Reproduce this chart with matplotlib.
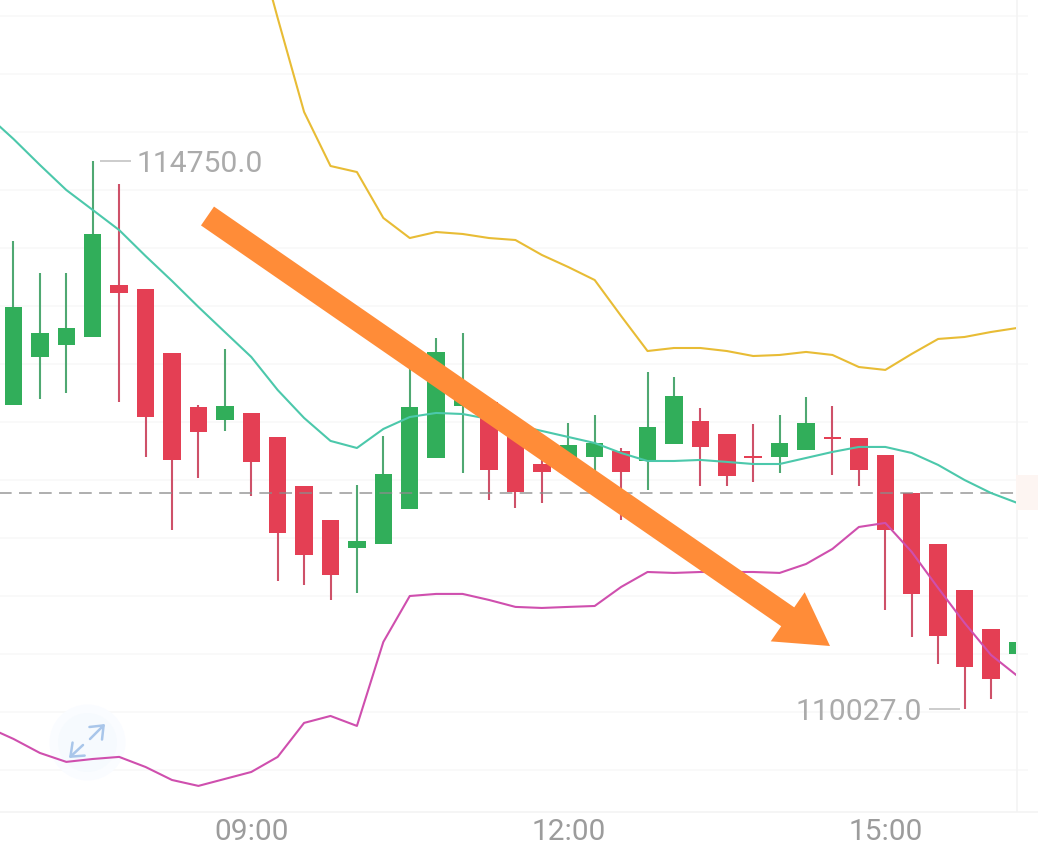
import matplotlib
matplotlib.use("Agg")
import numpy as np
import matplotlib.pyplot as plt
from matplotlib.patches import Rectangle

# 15 minute candles, prices
opens = [112647, 113061, 113164, 113233, 113681, 113647, 113095, 112630, 112518, 112578,
         112371, 111949, 111656, 111414, 111449, 111750, 112190, 112638, 112673, 112371,
         112138, 112173, 112199, 112250, 112164, 112311, 112509, 112397, 112207, 112199,
         112259, 112371, 112362, 112216, 111888, 111449, 111052, 110716, 110501]
closes = [113492, 113268, 113311, 114121, 113612, 112543, 112173, 112414, 112638, 112156,
          111544, 111354, 111181, 111475, 112052, 112630, 113104, 112819, 112087, 111897,
          112069, 112302, 112319, 112069, 112457, 112724, 112285, 112035, 112190, 112319,
          112492, 112354, 112087, 111569, 111018, 110656, 110388, 110285, 110604]
highs = [114061, 113785, 113785, 114750, 114552, 113647, 113095, 112647, 113130, 112578,
         112371, 111949, 111656, 111957, 112380, 112966, 113224, 113268, 112673, 112371,
         112190, 112492, 112561, 112276, 112931, 112888, 112621, 112397, 112483, 112561,
         112716, 112638, 112362, 112216, 111888, 111449, 111052, 110716, 110604]
lows = [112647, 112699, 112750, 113233, 112673, 112199, 111569, 112018, 112423, 111862,
        111130, 111095, 110966, 111026, 111449, 111750, 112190, 112061, 111828, 111759,
        111802, 112173, 112069, 111656, 111914, 112311, 111949, 111949, 111983, 112061,
        112259, 112043, 111949, 110880, 110647, 110414, 110027, 110113, 110501]

# bollinger bands, the first two start left of / above the visible area
mid_band = [115147, 114940, 114716, 114500, 114328, 114155, 113931, 113716, 113492, 113276,
            113061, 112776, 112535, 112337, 112276, 112440, 112543, 112578, 112569, 112526,
            112474, 112423, 112371, 112319, 112233, 112164, 112164, 112173, 112156, 112138,
            112138, 112190, 112242, 112285, 112285, 112233, 112130, 112000, 111888, 111802]
upper_band = [116819, 115983, 115173, 114707, 114655, 114259, 114086, 114138, 114121, 114086,
              114069, 113940, 113836, 113724, 113414, 113112, 113138, 113138, 113112, 113069,
              113078, 113104, 113078, 112974, 112949, 113087, 113216, 113233, 113276, 113311]
lower_band = [109871, 109768, 109647, 109570, 109595, 109613, 109526, 109414, 109363, 109423,
              109483, 109613, 109906, 109966, 109880, 110604, 111000, 111018, 111018, 110966,
              110906, 110897, 110906, 110914, 111078, 111207, 111199, 111207, 111207, 111207,
              111199, 111276, 111406, 111595, 111630, 111380, 111069, 110768, 110492, 110311]

grid_levels = np.arange(109500, 116001, 500)
last_price = 111892
time_ticks = [9, 21, 33]
time_labels = ["09:00", "12:00", "15:00"]

GREEN = "#31AE5A"
RED = "#E43F54"
ORANGE = "#FF8C38"
GRAY = "#ABABAB"

plt.rcParams['font.family'] = ['Roboto', 'DejaVu Sans']

fig = plt.figure(figsize=(10.38, 8.47), dpi=100)
ax = fig.add_axes([0, 35 / 847, 1, 812 / 847])
ax.set_xlim(-0.51, 38.78)
ax.set_ylim(109138, 116138)

clip = Rectangle((0, 0), 1016 / 1038, 1, transform=ax.transAxes)

# grid stops a bit short of the right edge
ax.hlines(grid_levels, 0, 1028 / 1038, color="#F8F8F8", lw=1.2, zorder=0,
          transform=ax.get_yaxis_transform())
ax.axvline(37.97, color="#F4F4F4", lw=1.2, zorder=0)

# faded price tag behind the right edge
ax.add_patch(Rectangle((1016 / 1038, 1 - 510 / 812), 22 / 1038, 35 / 812, transform=ax.transAxes,
                       color="#FDF5F2", lw=0, zorder=0))

# candles
idx = np.arange(len(opens))
op = np.array(opens)
cl = np.array(closes)
colors = [GREEN if c >= o else RED for o, c in zip(op, cl)]
wick_colors = ["#4FA872" if c >= o else "#CE5169" for o, c in zip(op, cl)]

wicks = ax.vlines(idx, lows, highs, colors=wick_colors, lw=1.5, zorder=2)
wicks.set_clip_path(clip)
bodies = ax.bar(idx, np.abs(cl - op), bottom=np.minimum(op, cl), width=0.66,
                color=colors, lw=0, zorder=3)
for b in bodies:
    b.set_clip_path(clip)

# last price line
price_line, = ax.plot([-1, 39], [last_price, last_price], color="#8C8C8C", alpha=0.7, lw=1.4,
                      dashes=(6.5, 3.8), zorder=3.5)
price_line.set_clip_path(clip)

# bands
mid_x = np.arange(-1, 39)
up_x = np.arange(9, 39)
for xs, ys, col in [(mid_x, mid_band, "#4CC8AB"),
                    (up_x, upper_band, "#E8BC35"),
                    (mid_x, lower_band, "#CF4FAE")]:
    line, = ax.plot(xs, ys, color=col, lw=1.5, zorder=4)
    line.set_clip_path(clip)

# high / low labels
ax.hlines(114750, 3.29, 4.43, color="#C4C4C4", lw=1.2, zorder=5)
ax.text(4.66, 114750, "114750.0", color=GRAY, fontsize=21.7, ha="left", va="center_baseline", zorder=5)
ax.hlines(110027, 34.67, 35.84, color="#C4C4C4", lw=1.2, zorder=5)
ax.text(34.40, 110027, "110027.0", color=GRAY, fontsize=21.7, ha="right", va="center_baseline", zorder=5)

# expand icon
icon_x, icon_y = 87 / 1038, 1 - 742 / 812
ax.scatter([icon_x], [icon_y], s=3000, color="#FAFCFF", lw=0, transform=ax.transAxes, zorder=1)
ax.scatter([icon_x], [icon_y], s=1800, color="#F6FAFE", lw=0, transform=ax.transAxes, zorder=1)
for tail, tip in [((90, 739), (105, 724)), ((83, 745), (69, 758))]:
    ax.annotate("", xy=(tip[0] / 1038, 1 - tip[1] / 812), xytext=(tail[0] / 1038, 1 - tail[1] / 812),
                xycoords="axes fraction", textcoords="axes fraction", zorder=1.5,
                arrowprops=dict(arrowstyle="->,head_length=5,head_width=4", mutation_scale=1.6,
                                color="#A9C6EA", lw=1.8, shrinkA=0, shrinkB=0))

# big hand drawn arrow on top of everything
ax.annotate("", xy=(830 / 1038, 1 - 646 / 812), xytext=(207.5 / 1038, 1 - 216 / 812),
            xycoords="axes fraction", textcoords="axes fraction", zorder=6,
            arrowprops=dict(arrowstyle="simple,head_length=37,head_width=43,tail_width=16.5",
                            mutation_scale=1, color=ORANGE, lw=0, shrinkA=0, shrinkB=0))

ax.set_xticks(time_ticks, time_labels)
ax.set_yticks([])
ax.tick_params(axis="x", length=0, pad=4.5, labelsize=21.5, labelcolor="#9C9C9C")
for side in ["top", "left", "right"]:
    ax.spines[side].set_visible(False)
ax.spines["bottom"].set_color("#F3F3F3")
ax.spines["bottom"].set_linewidth(1.2)

fig.savefig("out.png", dpi=100, facecolor="white")
plt.close(fig)
